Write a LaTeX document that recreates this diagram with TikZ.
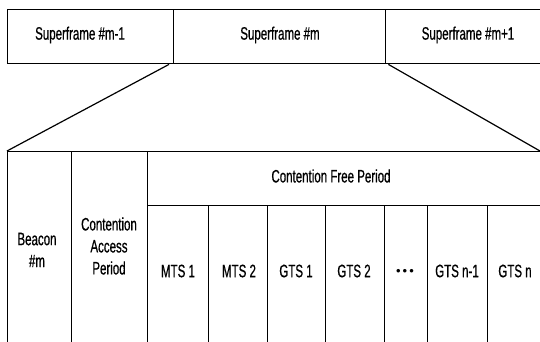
\documentclass[tikz,border=0pt]{standalone}
\usepackage{fontspec}
\setmainfont{Liberation Sans}[FakeStretch=0.64,FakeBold=0.6]
\newfontfamily\dotfont{Liberation Sans}
\begin{document}
\begin{tikzpicture}[x=1pt,y=-1pt,
  cell/.style={draw=black, line width=1.1pt, inner sep=0pt, anchor=north west},
  lbl/.style={font=\fontsize{18}{22}\selectfont, align=center, inner sep=0pt},
  link/.style={draw=black, line width=1.2pt}]
\useasboundingbox[fill=white] (0,0) rectangle (540,342);
% top row
\node[cell, line width=1.4pt, minimum width=166pt, minimum height=54pt] (sf1) at (7,9) {};
\node[cell, line width=1.4pt, minimum width=212pt, minimum height=54pt] (sf2) at (173,9) {};
\node[cell, line width=1.4pt, minimum width=170pt, minimum height=54pt] (sf3) at (385,9) {};
\node[lbl] (t1) at (80,35) {Superframe \#m-1};
\node[lbl] (t2) at (280,35) {Superframe \#m};
\node[lbl] (t3) at (468,35) {Superframe \#m+1};
% bottom structure
\node[cell, minimum width=64pt, minimum height=200pt] (bcn) at (7,151) {};
\node[cell, minimum width=76pt, minimum height=200pt] (cap) at (71,151) {};
\node[cell, minimum width=403pt, minimum height=54pt] (cfp) at (147,151) {};
\node[cell, minimum width=61pt, minimum height=146pt] (mts1) at (147,205) {};
\node[cell, minimum width=59pt, minimum height=146pt] (mts2) at (208,205) {};
\node[cell, minimum width=58pt, minimum height=146pt] (gts1) at (267,205) {};
\node[cell, minimum width=59pt, minimum height=146pt] (gts2) at (325,205) {};
\node[cell, minimum width=43pt, minimum height=146pt] (dots) at (384,205) {};
\node[cell, minimum width=60pt, minimum height=146pt] (gtsn1) at (427,205) {};
\node[cell, minimum width=63pt, minimum height=146pt] (gtsn) at (487,205) {};
\node[lbl] at (37,250) {Beacon\\\#m};
\node[lbl] at (109,246) {Contention\\Access\\Period};
\node[lbl] at (331,176) {Contention Free Period};
\node[lbl] at (178,271) {MTS 1};
\node[lbl] at (239,271) {MTS 2};
\node[lbl] at (296,271) {GTS 1};
\node[lbl] at (354,271) {GTS 2};
\node[lbl, font=\dotfont\fontsize{13}{14}\selectfont] at (405,272) {•\kern2pt•\kern2pt•};
\node[lbl] at (457,271) {GTS n-1};
\node[lbl] at (515,271) {GTS n};
% zoom lines
\coordinate (rEnd) at (540,151);
\draw[link] ([xshift=-4pt]sf2.south west) -- (bcn.north west);
\draw[link] ([xshift=2pt]sf2.south east) -- (rEnd);
\end{tikzpicture}
\end{document}
